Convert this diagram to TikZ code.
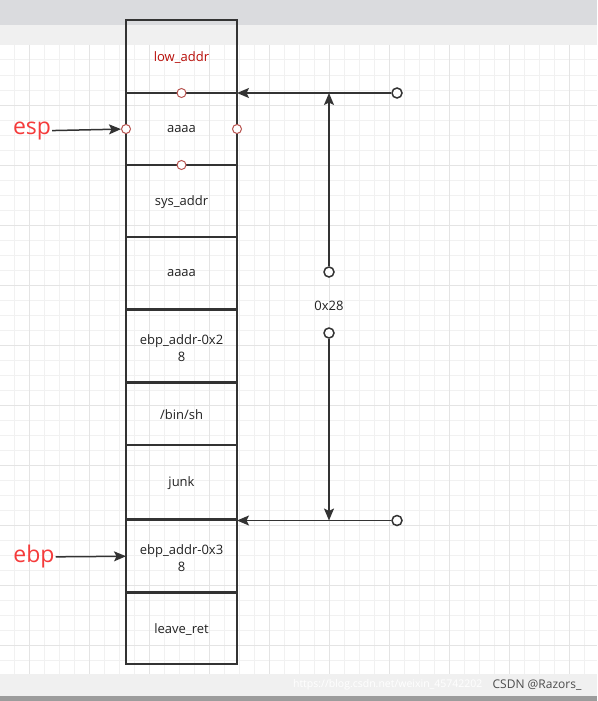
\documentclass[tikz,border=0pt]{standalone}
\usepackage{fontspec}
\setmainfont{Open Sans}
\usetikzlibrary{arrows.meta, positioning}

\definecolor{linegray}{HTML}{333333}
\definecolor{textgray}{HTML}{222222}
\definecolor{addrred}{HTML}{B80F0A}
\definecolor{regred}{HTML}{F53B3B}
\definecolor{portred}{HTML}{B85450}
\definecolor{bandgray}{HTML}{DADBDE}
\definecolor{bandlight}{HTML}{F0F0F0}
\definecolor{bandedge}{HTML}{9C9C9C}
\definecolor{gridminor}{HTML}{F1F1F1}
\definecolor{gridmajor}{HTML}{E4E4E4}

\begin{document}
\begin{tikzpicture}[
    x=1pt, y=-1pt,
    cell/.style={draw=linegray, line width=1.5pt, rectangle, minimum width=111pt,
        text width=104pt, align=center, inner sep=0pt, outer sep=0pt,
        font=\fontsize{13}{17}\selectfont, text=textgray,
        execute at end node={\endgraf\vspace*{-3pt}}},
    port/.style={draw=portred, fill=white, circle, minimum size=9pt, inner sep=0pt, line width=1pt},
    endpt/.style={draw=linegray, fill=white, circle, minimum size=10pt, inner sep=0pt, line width=1.5pt},
    reg/.style={text=regred, font=\fontsize{23}{27}\selectfont, inner sep=1pt},
    link/.style={draw=linegray, line width=1.5pt},
    >={Stealth[length=12pt, width=10pt, inset=2.5pt]} % Arrow style
]
\useasboundingbox (0,0) rectangle (597,701);

% Canvas
\fill[bandgray] (0,0) rectangle (597,25);
\fill[bandlight] (0,25) rectangle (597,45);
\fill[white] (0,45) rectangle (597,674);
\foreach \gx in {14,29,...,599} \draw[gridminor, line width=1pt] (\gx,45) -- (\gx,674);
\foreach \gy in {60,75,...,674} \draw[gridminor, line width=1pt] (0,\gy) -- (597,\gy);
\foreach \gx in {29,89,...,569} \draw[gridmajor, line width=1pt] (\gx,45) -- (\gx,674);
\foreach \gy in {105,165,...,645} \draw[gridmajor, line width=1pt] (0,\gy) -- (597,\gy);
\fill[bandlight] (0,674) rectangle (597,696);
\fill[bandedge] (0,696) rectangle (597,701);

% Stack
\node[cell, minimum height=73pt, text=addrred] (lowaddr) at (181.5,56.5) {low\_addr};
\node[cell, minimum height=72pt, below=0pt of lowaddr] (aaaa1) {aaaa};
\node[cell, minimum height=72pt, below=0pt of aaaa1] (sysaddr) {sys\_addr};
\node[cell, minimum height=72pt, below=0pt of sysaddr] (aaaa2) {aaaa};
\node[cell, minimum height=71.5pt, below=1.5pt of aaaa2] (ebp28) {ebp\_addr-0x2\\8};
\node[cell, minimum height=61.5pt, below=1.5pt of ebp28] (binsh) {/bin/sh};
\node[cell, minimum height=74pt, below=0pt of binsh] (junk) {junk};
\node[cell, minimum height=71.5pt, below=1.5pt of junk] (ebp38) {ebp\_addr-0x3\\8};
\node[cell, minimum height=70.5pt, below=1.5pt of ebp38] (leaveret) {leave\_ret};

% Ports
\node[port] (pn) at (aaaa1.north) {};
\node[port] (ps) at (aaaa1.south) {};
\node[port] (pw) at (aaaa1.west) {};
\node[port] (pe) at (aaaa1.east) {};

% Registers
\node[reg] (esp) at (32,131) {esp};
\node[reg] (ebp) at (34,557) {ebp};

% Size marker
\node[endpt] (tr) at (397,93) {};
\node[endpt] (br) at (397,520.5) {};
\node[endpt] (vt) at (329,272) {};
\node[endpt] (vb) at (329,333) {};
\node[font=\fontsize{13}{15}\selectfont, text=textgray] (len) at (329,306) {0x28};

% Watermark
\node[text=white, font=\fontsize{10.5}{12}\selectfont, anchor=east] (wm) at (486,685) {https://blog.csdn.net/weixin\_45742202};
\node[text=black!70, font=\fontsize{12}{14}\selectfont] (csdn) at (537,685) {CSDN @Razors\_};

% Arrows
\draw[link, ->] (esp) -- (pw);
\draw[link, ->] (ebp) -- (ebp38.west);
\draw[link, ->] (tr) -- (aaaa1.north east);
\draw[link, ->] (br) -- (ebp38.north east);
\draw[link, ->] (vt) -- (vt |- tr);
\draw[link, ->] (vb) -- (vb |- br);

\end{tikzpicture}
\end{document}
